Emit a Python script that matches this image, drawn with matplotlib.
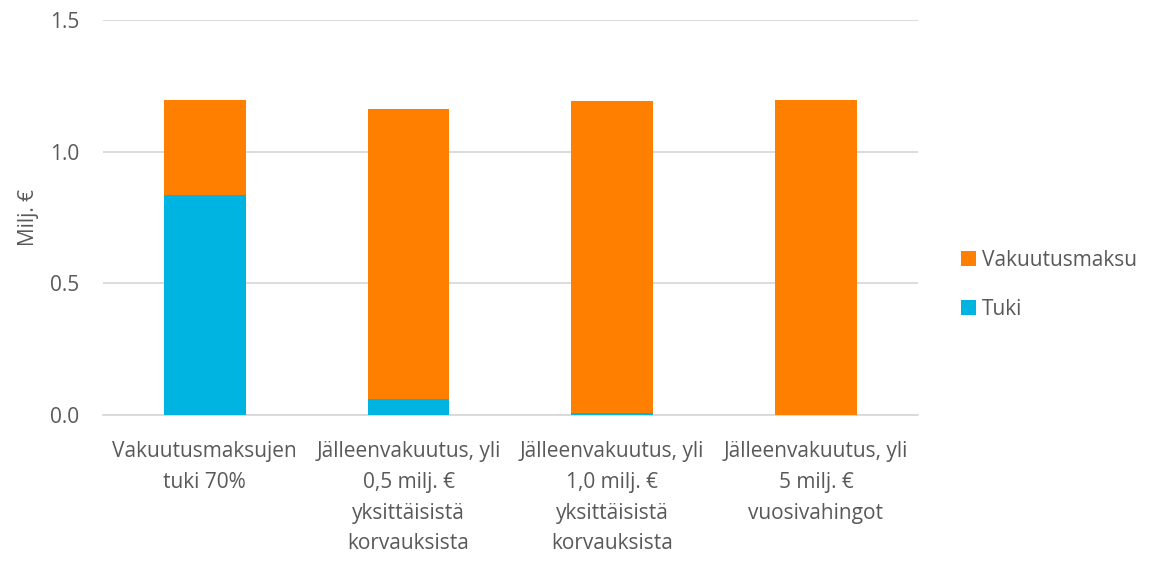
import numpy as np
import matplotlib.pyplot as plt

plt.rcParams['font.family'] = ['Open Sans', 'DejaVu Sans']

# data
categories = [
    "Vakuutusmaksujen\ntuki 70%",
    "Jälleenvakuutus, yli\n0,5 milj. €\nyksittäisistä\nkorvauksista",
    "Jälleenvakuutus, yli\n1,0 milj. €\nyksittäisistä\nkorvauksista",
    "Jälleenvakuutus, yli\n5 milj. €\nvuosivahingot",
]
tuki = [0.836, 0.061, 0.008, 0.0]
vakuutusmaksu = [0.360, 1.101, 1.185, 1.196]
yticks = [0.0, 0.5, 1.0, 1.5]

GRAY = "#595959"
GRID = "#D9D9D9"
ORANGE = "#FF8000"
CYAN = "#00B4E1"

fig = plt.figure(figsize=(11.56, 5.61), dpi=100)
ax = fig.add_axes([0.089, 0.2602, 0.705, 0.7038])

x = np.arange(len(categories))
ax.bar(x, tuki, width=0.4, color=CYAN, label="Tuki", zorder=3)
ax.bar(x, vakuutusmaksu, width=0.4, bottom=tuki, color=ORANGE,
       label="Vakuutusmaksu", zorder=3)

ax.set_xlim(-0.5, 3.5)
ax.set_ylim(0, 1.5)
ax.set_yticks(yticks)
ax.set_yticklabels([f"{v:.1f}" for v in yticks])
ax.set_xticks(x)
ax.set_xticklabels(categories, linespacing=1.6)
ax.tick_params(axis='both', length=0, colors=GRAY, labelsize=15)
ax.tick_params(axis='x', pad=19)
ax.tick_params(axis='y', pad=17)
ax.yaxis.grid(True, color=GRID, linewidth=1.3, zorder=0)
for s in ["top", "right", "left"]:
    ax.spines[s].set_visible(False)
ax.spines["bottom"].set_color(GRID)
ax.spines["bottom"].set_linewidth(1.3)
ax.set_ylabel("Milj. €", color=GRAY, fontsize=15, labelpad=8)

handles, labels = ax.get_legend_handles_labels()
ax.legend(handles[::-1], labels[::-1], loc="center left",
          bbox_to_anchor=(1.030, 0.33), frameon=False, fontsize=15,
          labelcolor=GRAY, handlelength=0.7, handleheight=0.7,
          handletextpad=0.3, labelspacing=1.35)

plt.savefig("out.png", dpi=100)
